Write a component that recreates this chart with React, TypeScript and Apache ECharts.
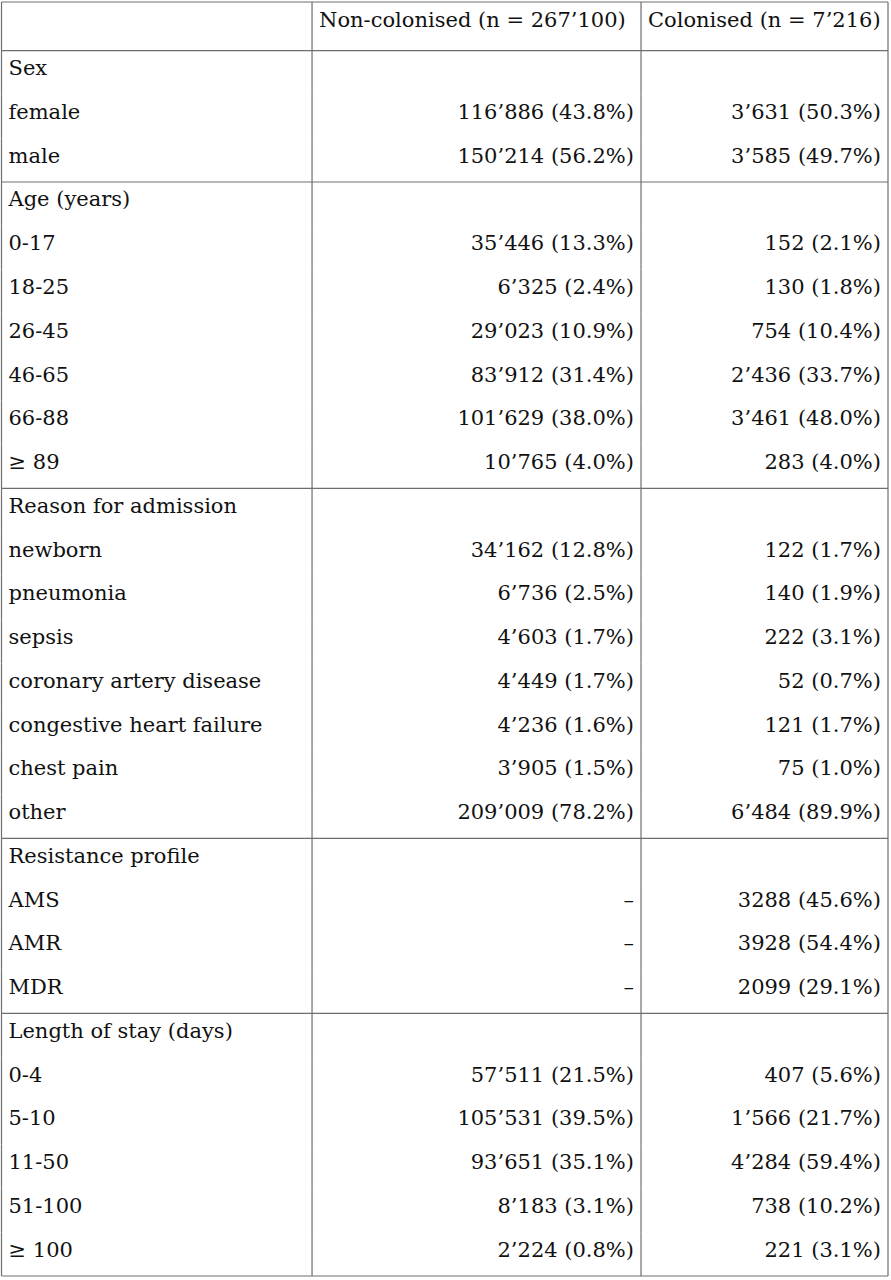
import { useEffect, useRef } from "react";
import * as echarts from "echarts";

// ----- table content -----
const headerCells = ["", "Non-colonised (n = 267’100)", "Colonised (n = 7’216)"];

const rowLabels = [
    "Sex", "female", "male",
    "Age (years)", "0-17", "18-25", "26-45", "46-65", "66-88", "≥ 89",
    "Reason for admission", "newborn", "pneumonia", "sepsis", "coronary artery disease",
    "congestive heart failure", "chest pain", "other",
    "Resistance profile", "AMS", "AMR", "MDR",
    "Length of stay (days)", "0-4", "5-10", "11-50", "51-100", "≥ 100",
];

const nonColonised = [
    "", "116’886 (43.8%)", "150’214 (56.2%)",
    "", "35’446 (13.3%)", "6’325 (2.4%)", "29’023 (10.9%)", "83’912 (31.4%)", "101’629 (38.0%)", "10’765 (4.0%)",
    "", "34’162 (12.8%)", "6’736 (2.5%)", "4’603 (1.7%)", "4’449 (1.7%)", "4’236 (1.6%)", "3’905 (1.5%)", "209’009 (78.2%)",
    "", "–", "–", "–",
    "", "57’511 (21.5%)", "105’531 (39.5%)", "93’651 (35.1%)", "8’183 (3.1%)", "2’224 (0.8%)",
];

const colonised = [
    "", "3’631 (50.3%)", "3’585 (49.7%)",
    "", "152 (2.1%)", "130 (1.8%)", "754 (10.4%)", "2’436 (33.7%)", "3’461 (48.0%)", "283 (4.0%)",
    "", "122 (1.7%)", "140 (1.9%)", "222 (3.1%)", "52 (0.7%)", "121 (1.7%)", "75 (1.0%)", "6’484 (89.9%)",
    "", "3288 (45.6%)", "3928 (54.4%)", "2099 (29.1%)",
    "", "407 (5.6%)", "1’566 (21.7%)", "4’284 (59.4%)", "738 (10.2%)", "221 (3.1%)",
];

// rows that open a section (get a rule above them)
const sectionStarts = [0, 3, 10, 18, 22];

// ----- layout -----
const COL_EDGES = [0, 0.3503, 0.7214, 1]; // fractions of table width
const PAD = 7;
const TEXT_OFFSET = 17.5; // from the top of a row to the text middle
const FONT = "DejaVu Serif";
const FONT_SIZE = 21;
const LINE = { stroke: "#6e6e6e", lineWidth: 1.2 };
const INK = "#111111";

export default function App() {
    const containerRef = useRef<HTMLDivElement | null>(null);

    useEffect(() => {
        if (!containerRef.current) return;
        document.body.style.margin = "0";
        const chart = echarts.init(containerRef.current, undefined, { renderer: "svg" });

        const textEl = (text: string, x: number, y: number, align: "left" | "right") => ({
            type: "text",
            style: {
                text,
                x,
                y,
                align,
                verticalAlign: "middle",
                fill: INK,
                font: `${FONT_SIZE}px "${FONT}"`,
            },
        });

        const vline = (x: number, y1: number, y2: number) => ({
            type: "line",
            shape: { x1: x, y1, x2: x, y2 },
            style: LINE,
        });
        const hline = (x1: number, x2: number, y: number) => ({
            type: "line",
            shape: { x1, y1: y, x2, y2: y },
            style: LINE,
        });

        const renderHeader = (_params: any, api: any) => {
            const row = api.value(1);
            const bandH = api.size([0, 1])[1];
            const yc = api.coord([0, row])[1];
            const top = yc - bandH / 2;
            const bottom = yc + bandH / 2;
            const xs = COL_EDGES.map((e) => api.coord([e, row])[0]);
            const children: any[] = [hline(xs[0], xs[3], top)];
            xs.forEach((x) => children.push(vline(x, top, bottom)));
            headerCells.forEach((t, i) => {
                if (t) children.push(textEl(t, xs[i] + PAD, top + TEXT_OFFSET, "left"));
            });
            return { type: "group", children };
        };

        const renderBody = (_params: any, api: any) => {
            const row = api.value(1);
            const bandH = api.size([0, 1])[1];
            const yc = api.coord([0, row])[1];
            const top = yc - bandH / 2;
            const bottom = yc + bandH / 2;
            const xs = COL_EDGES.map((e) => api.coord([e, row])[0]);
            const children: any[] = [];
            xs.forEach((x) => children.push(vline(x, top, bottom)));
            if (sectionStarts.includes(row)) children.push(hline(xs[0], xs[3], top));
            if (row === rowLabels.length - 1) children.push(hline(xs[0], xs[3], bottom));
            const y = top + TEXT_OFFSET;
            children.push(textEl(rowLabels[row], xs[0] + PAD, y, "left"));
            if (nonColonised[row]) children.push(textEl(nonColonised[row], xs[2] - PAD, y, "right"));
            if (colonised[row]) children.push(textEl(colonised[row], xs[3] - PAD, y, "right"));
            return { type: "group", children };
        };

        const hiddenX = (gridIndex: number) => ({
            type: "value" as const,
            gridIndex,
            min: 0,
            max: 1,
            show: false,
        });

        const option: any = {
            animation: false,
            backgroundColor: "#ffffff",
            grid: [
                { left: 1.5, right: 3, top: 2, height: 48.7 },
                { left: 1.5, right: 3, top: 50.7, bottom: 4 },
            ],
            xAxis: [hiddenX(0), hiddenX(1)],
            yAxis: [
                { type: "category", gridIndex: 0, data: ["header"], show: false },
                {
                    type: "category",
                    gridIndex: 1,
                    data: rowLabels.map((_, i) => String(i)),
                    inverse: true,
                    show: false,
                },
            ],
            series: [
                {
                    type: "custom",
                    xAxisIndex: 0,
                    yAxisIndex: 0,
                    clip: false,
                    silent: true,
                    renderItem: renderHeader,
                    encode: { x: 0, y: 1 },
                    data: [[0, 0]],
                },
                {
                    type: "custom",
                    xAxisIndex: 1,
                    yAxisIndex: 1,
                    clip: false,
                    silent: true,
                    renderItem: renderBody,
                    encode: { x: 0, y: 1 },
                    data: rowLabels.map((_, i) => [0, i]),
                },
            ],
        };

        chart.setOption(option);

        const onResize = () => chart.resize();
        window.addEventListener("resize", onResize);
        return () => {
            window.removeEventListener("resize", onResize);
            chart.dispose();
        };
    }, []);

    return <div ref={containerRef} style={{ width: 891, height: 1280 }} />;
}
